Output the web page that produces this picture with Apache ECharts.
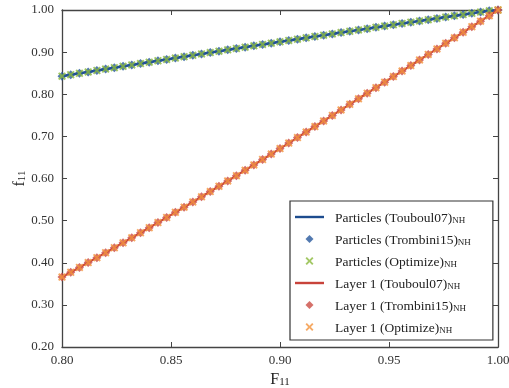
<!DOCTYPE html>
<html>
<head>
<meta charset="utf-8">
<script src="https://cdn.jsdelivr.net/npm/echarts@6/dist/echarts.min.js"></script>
<style>html,body{margin:0;padding:0;background:#fff}#c{width:509px;height:388px}</style>
</head>
<body>
<div id="c"></div>
<script>
// Sampling grid F11
const F11 = [0.800,0.804,0.808,0.812,0.816,0.820,0.824,0.828,0.832,0.836,0.840,0.844,0.848,0.852,0.856,0.860,0.864,0.868,0.872,0.876,0.880,0.884,0.888,0.892,0.896,0.900,0.904,0.908,0.912,0.916,0.920,0.924,0.928,0.932,0.936,0.940,0.944,0.948,0.952,0.956,0.960,0.964,0.968,0.972,0.976,0.980,0.984,0.988,0.992,0.996,1.000];
// Particles f11 (all three models coincide)
const particlesF = [0.8430,0.8464,0.8497,0.8530,0.8564,0.8597,0.8630,0.8663,0.8696,0.8729,0.8762,0.8795,0.8827,0.8860,0.8893,0.8925,0.8957,0.8990,0.9022,0.9054,0.9086,0.9118,0.9150,0.9182,0.9213,0.9245,0.9277,0.9308,0.9339,0.9371,0.9402,0.9433,0.9464,0.9495,0.9526,0.9557,0.9588,0.9618,0.9649,0.9680,0.9710,0.9740,0.9771,0.9801,0.9831,0.9861,0.9891,0.9921,0.9951,0.9980,1.0000];
// Layer 1 f11 (all three models coincide)
const layerF = [0.3660,0.3774,0.3889,0.4005,0.4121,0.4238,0.4356,0.4474,0.4592,0.4712,0.4832,0.4953,0.5074,0.5196,0.5319,0.5442,0.5566,0.5691,0.5816,0.5942,0.6068,0.6195,0.6323,0.6451,0.6580,0.6710,0.6840,0.6971,0.7103,0.7234,0.7366,0.7498,0.7629,0.7761,0.7892,0.8024,0.8156,0.8287,0.8419,0.8550,0.8682,0.8814,0.8945,0.9077,0.9208,0.9340,0.9472,0.9603,0.9735,0.9866,1.0000];
const seriesNames = ['Particles (Touboul07)','Particles (Trombini15)','Particles (Optimize)','Layer 1 (Touboul07)','Layer 1 (Trombini15)','Layer 1 (Optimize)'];
const xTicks = {min:0.80, max:1.00, interval:0.05};
const yTicks = {min:0.20, max:1.00, interval:0.10};

const SERIF = '"Liberation Serif", "DejaVu Serif", serif';
const pts = (ys) => F11.map((x,i) => [x, ys[i]]);
const XSYM = 'path://M0,1.7L1.7,0L5,3.3L8.3,0L10,1.7L6.7,5L10,8.3L8.3,10L5,6.7L1.7,10L0,8.3L3.3,5Z';
const DSYM = 'path://M5,0L10,5L5,10L0,5Z';
const LSYM = 'path://M0,0H29V2.4H0Z';
const C = {pLine:'#1d4c8e', pDia:'#27589c', pX:'#8cba3f', lLine:'#c8433b', lDia:'#cb4c43', lX:'#f4953f'};

const chart = echarts.init(document.getElementById('c'), null, {renderer:'canvas'});
const axisCol = '#444';
const baseX = {type:'value', min:xTicks.min, max:xTicks.max, interval:xTicks.interval, splitLine:{show:false},
  axisLine:{show:true, onZero:false, lineStyle:{color:axisCol, width:1.3}},
  axisTick:{show:true, inside:true, length:5, lineStyle:{color:axisCol, width:1}}};
const baseY = {type:'value', min:yTicks.min, max:yTicks.max, interval:yTicks.interval, splitLine:{show:false},
  axisLine:{show:true, onZero:false, lineStyle:{color:axisCol, width:1.3}},
  axisTick:{show:true, inside:true, length:5, lineStyle:{color:axisCol, width:1}}};
const richName = {
  a:{fontFamily:SERIF, fontSize:16, color:'#222', lineHeight:18, verticalAlign:'bottom'},
  s:{fontFamily:SERIF, fontSize:11, color:'#222', lineHeight:8, verticalAlign:'bottom'}
};
chart.setOption({
  animation:false,
  backgroundColor:'#fff',
  grid:{left:62, right:11, top:10, bottom:41, outerBoundsMode:'none', containLabel:false},
  xAxis:[
    Object.assign({}, baseX, {position:'bottom', name:'{a|F}{s|11}', nameLocation:'middle', nameGap:17,
      nameTextStyle:{rich:richName},
      axisLabel:{show:true, margin:7, fontFamily:SERIF, fontSize:13, color:'#333', formatter:v=>v.toFixed(2)}}),
    Object.assign({}, baseX, {position:'top', axisLabel:{show:false}})
  ],
  yAxis:[
    Object.assign({}, baseY, {position:'left', name:'{a|f}{s|11}', nameLocation:'middle', nameGap:34, nameMoveOverlap:false,
      nameTextStyle:{rich:richName},
      axisLabel:{show:true, margin:8, fontFamily:SERIF, fontSize:13, color:'#333', formatter:v=>v.toFixed(2)}}),
    Object.assign({}, baseY, {position:'right', axisLabel:{show:false}})
  ],
  legend:{
    orient:'vertical', left:290, top:201, itemWidth:29, itemHeight:8, itemGap:8,
    padding:[10,22,5,5], backgroundColor:'#fff', borderColor:'#333', borderWidth:1.2, borderRadius:0,
    symbolKeepAspect:true,
    data:[
      {name:seriesNames[0], icon:LSYM}, {name:seriesNames[1], icon:DSYM}, {name:seriesNames[2], icon:XSYM},
      {name:seriesNames[3], icon:LSYM}, {name:seriesNames[4], icon:DSYM}, {name:seriesNames[5], icon:XSYM}
    ],
    formatter: n => '{a|' + n + '}{s|NH}',
    textStyle:{rich:{
      a:{fontFamily:SERIF, fontSize:13.5, color:'#222', lineHeight:16, verticalAlign:'bottom', padding:[0,0,0,6]},
      s:{fontFamily:SERIF, fontSize:9, color:'#222', lineHeight:7, verticalAlign:'bottom'}
    }}
  },
  series:[
    {name:seriesNames[0], type:'line', data:pts(particlesF), symbol:'none', color:C.pLine, lineStyle:{width:2.6, color:C.pLine}, z:2},
    {name:seriesNames[1], type:'scatter', data:pts(particlesF), symbol:DSYM, symbolSize:9, color:C.pDia, z:3},
    {name:seriesNames[2], type:'scatter', data:pts(particlesF), symbol:XSYM, symbolSize:8, color:C.pX, z:4},
    {name:seriesNames[3], type:'line', data:pts(layerF), symbol:'none', color:C.lLine, lineStyle:{width:2.2, color:C.lLine}, z:5},
    {name:seriesNames[4], type:'scatter', data:pts(layerF), symbol:DSYM, symbolSize:9, color:C.lDia, z:6},
    {name:seriesNames[5], type:'scatter', data:pts(layerF), symbol:XSYM, symbolSize:8, color:C.lX, z:7}
  ]
});
</script>
</body>
</html>
